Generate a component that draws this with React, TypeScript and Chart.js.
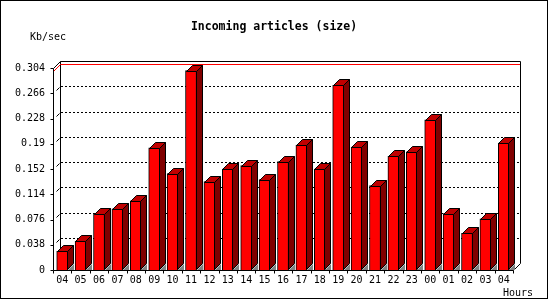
import React, { useEffect, useRef } from 'react';
import { Chart, registerables } from 'chart.js';

Chart.register(...registerables);

const hours = ['04', '05', '06', '07', '08', '09', '10', '11', '12', '13', '14', '15', '16', '17', '18', '19', '20', '21', '22', '23', '00', '01', '02', '03', '04'];
const sizeKbSec = [0.028, 0.043, 0.085, 0.092, 0.104, 0.184, 0.145, 0.300, 0.133, 0.152, 0.157, 0.136, 0.163, 0.188, 0.152, 0.278, 0.185, 0.127, 0.171, 0.178, 0.226, 0.085, 0.055, 0.077, 0.191];
const yTicks = [0, 0.038, 0.076, 0.114, 0.152, 0.19, 0.228, 0.266, 0.304];
const titleText = 'Incoming articles (size)';
const yUnit = 'Kb/sec';
const xUnit = 'Hours';

const BAR_DEPTH = 6;
const WALL_DEPTH = 7;
const MONO = '"DejaVu Sans Mono", "Liberation Mono", monospace';

export default function App() {
  const ref = useRef<HTMLCanvasElement | null>(null);

  useEffect(() => {
    document.body.style.margin = '0';
    const canvas = ref.current;
    if (!canvas) return;

    const px = (v: number) => Math.round(v) + 0.5;

    const plugin3d = {
      id: 'bars3d',
      beforeDatasetsDraw(chart: any) {
        const { ctx, chartArea: a, scales } = chart;
        const y = scales.y;
        const L = Math.round(a.left);
        const R = Math.round(a.right);
        const T = Math.round(a.top);
        const B = Math.round(a.bottom);
        const d = WALL_DEPTH;
        ctx.save();
        ctx.lineWidth = 1;
        ctx.strokeStyle = '#000';
        // dotted grid lines on the back wall
        ctx.setLineDash([2, 2]);
        for (const v of yTicks) {
          if (v === 0 || v === yTicks[yTicks.length - 1]) continue;
          const yy = px(y.getPixelForValue(v)) - d;
          ctx.beginPath();
          ctx.moveTo(L + d + 1, yy);
          ctx.lineTo(R + d, yy);
          ctx.stroke();
        }
        ctx.setLineDash([]);
        // back wall outline
        ctx.beginPath();
        ctx.moveTo(L + 0.5, T + 0.5);
        ctx.lineTo(L + d + 0.5, T - d + 0.5);
        ctx.lineTo(R + d + 0.5, T - d + 0.5);
        ctx.lineTo(R + d + 0.5, B - d + 0.5);
        ctx.lineTo(R + 0.5, B + 0.5);
        ctx.stroke();
        ctx.beginPath();
        ctx.moveTo(L + d + 0.5, T - d + 0.5);
        ctx.lineTo(L + d + 0.5, B - d + 0.5);
        ctx.stroke();
        // diagonal tick marks from front axis to wall
        for (const v of yTicks) {
          if (v === 0 || v === yTicks[yTicks.length - 1]) continue;
          const yf = Math.round(y.getPixelForValue(v));
          ctx.beginPath();
          ctx.moveTo(L + 3.5, yf - 2.5);
          ctx.lineTo(L + 6.5, yf - 5.5);
          ctx.stroke();
        }
        // max line (red)
        const maxV = Math.max(...sizeKbSec);
        const ym = Math.round(y.getPixelForValue(maxV));
        ctx.strokeStyle = '#ff0000';
        ctx.beginPath();
        ctx.moveTo(L + 0.5, ym + 0.5);
        ctx.lineTo(L + d + 0.5, ym - d + 0.5);
        ctx.lineTo(R + d, ym - d + 0.5);
        ctx.stroke();
        // floor shadows under the bar sides
        const meta = chart.getDatasetMeta(0);
        ctx.fillStyle = '#808080';
        for (const el of meta.data) {
          const p = el.getProps(['x', 'base', 'width'], true);
          const right = Math.round(p.x + p.width / 2);
          const base = Math.round(p.base);
          ctx.beginPath();
          ctx.moveTo(right, base);
          ctx.lineTo(right + BAR_DEPTH, base - BAR_DEPTH);
          ctx.lineTo(right + BAR_DEPTH, base);
          ctx.closePath();
          ctx.fill();
        }
        ctx.restore();
      },
      afterDatasetsDraw(chart: any) {
        const { ctx, chartArea: a } = chart;
        const meta = chart.getDatasetMeta(0);
        const d = BAR_DEPTH;
        ctx.save();
        ctx.lineWidth = 1;
        ctx.strokeStyle = '#000';
        for (const el of meta.data) {
          const p = el.getProps(['x', 'y', 'base', 'width'], true);
          const left = Math.round(p.x - p.width / 2) + 0.5;
          const right = Math.round(p.x + p.width / 2) - 0.5;
          const top = Math.round(p.y) + 0.5;
          const base = Math.round(p.base) - 0.5;
          // side face
          ctx.fillStyle = '#800000';
          ctx.beginPath();
          ctx.moveTo(right, top);
          ctx.lineTo(right + d, top - d);
          ctx.lineTo(right + d, base - d);
          ctx.lineTo(right, base);
          ctx.closePath();
          ctx.fill();
          ctx.stroke();
          // top face
          ctx.fillStyle = '#c00000';
          ctx.beginPath();
          ctx.moveTo(left, top);
          ctx.lineTo(left + d, top - d);
          ctx.lineTo(right + d, top - d);
          ctx.lineTo(right, top);
          ctx.closePath();
          ctx.fill();
          ctx.stroke();
        }
        // front axes
        const L = Math.round(a.left) + 0.5;
        const R = Math.round(a.right) + 0.5;
        const T = Math.round(a.top) + 0.5;
        const B = Math.round(a.bottom) + 0.5;
        ctx.beginPath();
        ctx.moveTo(L, T);
        ctx.lineTo(L, B);
        ctx.lineTo(R, B);
        ctx.stroke();
        // y tick marks
        const y = chart.scales.y;
        for (const v of yTicks) {
          const yy = px(y.getPixelForValue(v));
          ctx.beginPath();
          ctx.moveTo(L - 3, yy);
          ctx.lineTo(L, yy);
          ctx.stroke();
        }
        // x tick marks at category boundaries
        const n = hours.length;
        for (let k = 0; k <= n; k++) {
          const xx = px(a.left + (k * a.width) / n);
          ctx.beginPath();
          ctx.moveTo(xx, B);
          ctx.lineTo(xx, B + 3);
          ctx.stroke();
        }
        ctx.restore();
      },
      afterDraw(chart: any) {
        const { ctx } = chart;
        ctx.save();
        ctx.fillStyle = '#000';
        ctx.textBaseline = 'middle';
        ctx.font = `bold 11.5px ${MONO}`;
        ctx.textAlign = 'center';
        ctx.fillText(titleText, 274, 27);
        ctx.font = `10px ${MONO}`;
        ctx.textAlign = 'left';
        ctx.fillText(yUnit, 30, 37);
        ctx.textAlign = 'right';
        ctx.fillText(xUnit, 533, 293);
        ctx.strokeStyle = '#000';
        ctx.lineWidth = 1;
        ctx.strokeRect(0.5, 0.5, 547, 298);
        ctx.restore();
      },
    };

    const chart = new Chart(canvas, {
      type: 'bar',
      data: {
        labels: hours,
        datasets: [
          {
            data: sizeKbSec,
            backgroundColor: '#ff0000',
            borderColor: '#000000',
            borderWidth: 1,
            barThickness: 11,
          },
        ],
      },
      options: {
        responsive: false,
        animation: false,
        layout: { padding: { left: 0, top: 68, right: 37, bottom: 0 } },
        plugins: { legend: { display: false }, tooltip: { enabled: false }, title: { display: false } },
        scales: {
          x: {
            type: 'category',
            offset: true,
            grid: { display: false, drawTicks: false },
            border: { display: false },
            ticks: { color: '#000', font: { family: MONO, size: 10 }, padding: 4, maxRotation: 0, autoSkip: false },
            afterFit: (s: any) => { s.height = 30; },
          },
          y: {
            min: 0,
            max: 0.304,
            grid: { display: false, drawTicks: false },
            border: { display: false },
            afterBuildTicks: (s: any) => { s.ticks = yTicks.map((v) => ({ value: v })); },
            ticks: {
              color: '#000',
              font: { family: MONO, size: 10 },
              padding: 8,
              callback: (v: any) => String(Number(Number(v).toFixed(3))),
            },
            afterFit: (s: any) => { s.width = 53; },
          },
        },
      },
      plugins: [plugin3d],
    });
    return () => chart.destroy();
  }, []);

  return (
    <div style={{ position: 'fixed', left: 0, top: 0, width: 550, height: 300, background: '#fff' }}>
      <canvas ref={ref} width={550} height={300} style={{ display: 'block' }} />
    </div>
  );
}
